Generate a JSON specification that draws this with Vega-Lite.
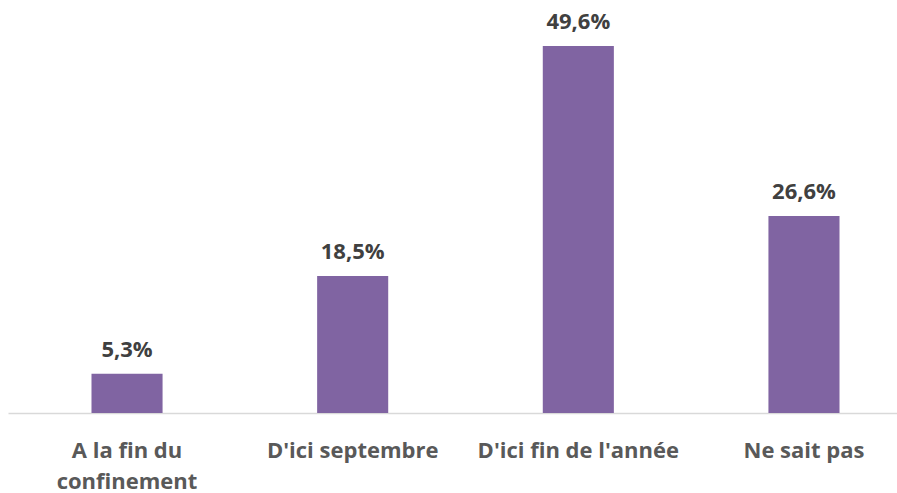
{
  "$schema": "https://vega.github.io/schema/vega-lite/v6.json",
  "width": 889,
  "height": 413,
  "autosize": {"type": "none"},
  "padding": {"left": 8, "top": 0, "right": 0, "bottom": 80},
  "background": "white",
  "config": {"view": {"stroke": null}},
  "data": {
    "values": [
      {"cat": "A la fin du confinement", "val": 5.3, "label": "5,3%"},
      {"cat": "D'ici septembre", "val": 18.5, "label": "18,5%"},
      {"cat": "D'ici fin de l'année", "val": 49.6, "label": "49,6%"},
      {"cat": "Ne sait pas", "val": 26.6, "label": "26,6%"}
    ]
  },
  "encoding": {
    "x": {
      "field": "cat",
      "type": "nominal",
      "sort": null,
      "scale": {"range": [0, 915], "paddingInner": 0.685, "paddingOuter": 0.37},
      "axis": {
        "title": null,
        "labelAngle": 0,
        "ticks": false,
        "domainColor": "#d9d9d9",
        "domainWidth": 1.5,
        "labelFont": "Open Sans",
        "labelFontWeight": "bold",
        "labelFontSize": 22,
        "labelColor": "#595959",
        "labelPadding": 27,
        "labelLineHeight": 31,
        "labelLimit": 0,
        "labelBaseline": "top",
        "labelExpr": "datum.value == 'A la fin du confinement' ? ['A la fin du', 'confinement'] : datum.value"
      }
    },
    "y": {
      "field": "val",
      "type": "quantitative",
      "scale": {"domain": [0, 55.8], "nice": false},
      "axis": null
    }
  },
  "layer": [
    {"mark": {"type": "bar", "color": "#8064A2"}},
    {
      "mark": {
        "type": "text",
        "font": "Open Sans",
        "fontWeight": "bold",
        "fontSize": 22,
        "color": "#404040",
        "baseline": "alphabetic",
        "dy": -17
      },
      "encoding": {"text": {"field": "label"}}
    }
  ]
}
